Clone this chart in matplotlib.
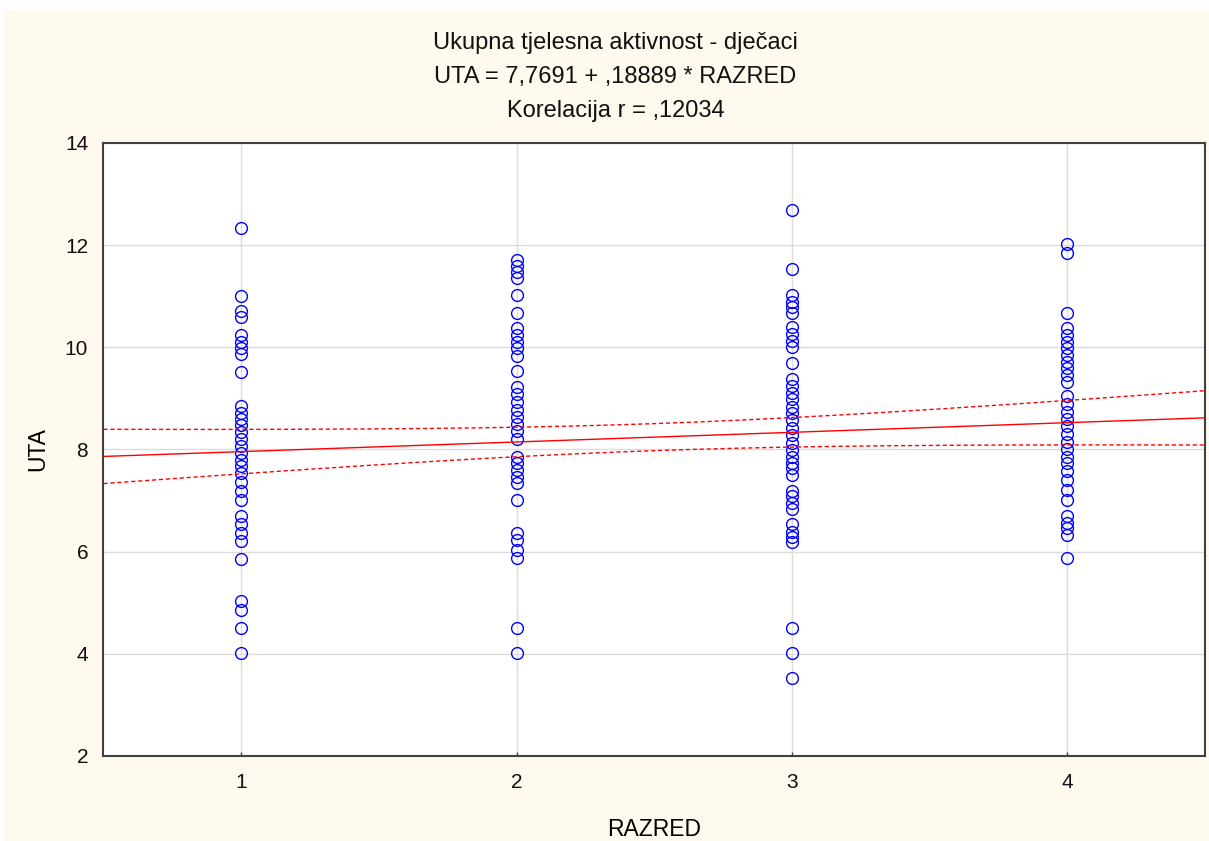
import numpy as np
import matplotlib.pyplot as plt

plt.rcParams['font.family'] = ['Liberation Sans', 'DejaVu Sans']

# UTA scores by RAZRED
razred_1 = [12.33, 11.0, 10.71, 10.59, 10.24, 10.11, 9.99, 9.87, 9.52,
            8.85, 8.72, 8.6, 8.47, 8.34, 8.2, 8.07, 7.94, 7.8, 7.67,
            7.53, 7.36, 7.19, 7.02, 6.7, 6.55, 6.37, 6.2, 5.85,
            5.03, 4.86, 4.51, 4.02]
razred_2 = [11.71, 11.59, 11.48, 11.35, 11.02, 10.68, 10.37, 10.24, 10.11,
            9.98, 9.83, 9.54, 9.23, 9.09, 8.92, 8.77, 8.64, 8.5, 8.37,
            8.2, 7.86, 7.74, 7.59, 7.46, 7.35, 7.02, 6.36, 6.22, 6.03,
            5.87, 4.51, 4.02]
razred_3 = [12.69, 11.53, 11.02, 10.89, 10.78, 10.67, 10.39, 10.26, 10.13,
            10.01, 9.69, 9.37, 9.24, 9.11, 8.98, 8.84, 8.72, 8.58, 8.43,
            8.28, 8.12, 7.99, 7.86, 7.73, 7.63, 7.5, 7.19, 7.08, 6.95,
            6.83, 6.54, 6.39, 6.28, 6.18, 4.51, 4.02, 3.52]
razred_4 = [12.02, 11.84, 10.68, 10.37, 10.24, 10.11, 9.98, 9.85, 9.72,
            9.59, 9.46, 9.33, 9.04, 8.89, 8.74, 8.59, 8.45, 8.3, 8.15,
            8.0, 7.86, 7.74, 7.57, 7.4, 7.21, 7.01, 6.7, 6.56, 6.46,
            6.33, 5.87]
groups = [razred_1, razred_2, razred_3, razred_4]

# regression from the title, band shape estimated from the dashed lines
intercept = 7.7691
slope = 0.18889
x_mean = 2.5
band_a = 0.07
band_b = 0.053

bg = '#fff9ee'
fig = plt.figure(figsize=(12.09, 8.41), dpi=100, facecolor='white')
fig.patches.append(plt.Rectangle((0.003, 0), 0.997, 0.988, transform=fig.transFigure,
                                 facecolor=bg, edgecolor='none', zorder=-10))
ax = fig.add_axes([0.0856, 0.1011, 0.911, 0.7289])
ax.set_facecolor('white')

for i, vals in enumerate(groups):
    ax.plot([i + 1] * len(vals), vals, 'o', markersize=8.5, markerfacecolor='none',
            markeredgecolor='#0000ff', markeredgewidth=1.0, zorder=3)

xs = np.linspace(0.5, 4.5, 200)
fit = intercept + slope * xs
half = np.sqrt(band_a + band_b * (xs - x_mean) ** 2)
ax.plot(xs, fit, color='#ff0000', lw=1.0, zorder=4)
ax.plot(xs, fit + half, color='#ff0000', lw=1.0, ls=(0, (3, 2)), zorder=4)
ax.plot(xs, fit - half, color='#ff0000', lw=1.0, ls=(0, (3, 2)), zorder=4)

ax.set_xlim(0.5, 4.5)
ax.set_ylim(2, 14)
ax.set_xticks([1, 2, 3, 4])
ax.set_yticks([2, 4, 6, 8, 10, 12, 14])
ax.grid(True, color='#dcdcdc', lw=1.0, zorder=0)
ax.set_axisbelow(True)
for s in ax.spines.values():
    s.set_color('#404040')
    s.set_linewidth(1.5)
ax.tick_params(direction='in', length=3, width=1, colors='#404040',
               labelcolor='#111111', labelsize=15, pad=12)
ax.tick_params(axis='y', length=0, pad=11)

ax.set_xlabel('RAZRED', fontsize=16.5, labelpad=19)
ax.set_ylabel('UTA', fontsize=16.5, labelpad=11)

title_lines = ['Ukupna tjelesna aktivnost - dječaci',
               'UTA = 7,7691 + ,18889 * RAZRED',
               'Korelacija r = ,12034']
for y, line in zip([0.949, 0.909, 0.868], title_lines):
    fig.text(0.509, y, line, ha='center', va='center', fontsize=17, color='#111111')

fig.savefig('out.png', dpi=100, facecolor='white')
